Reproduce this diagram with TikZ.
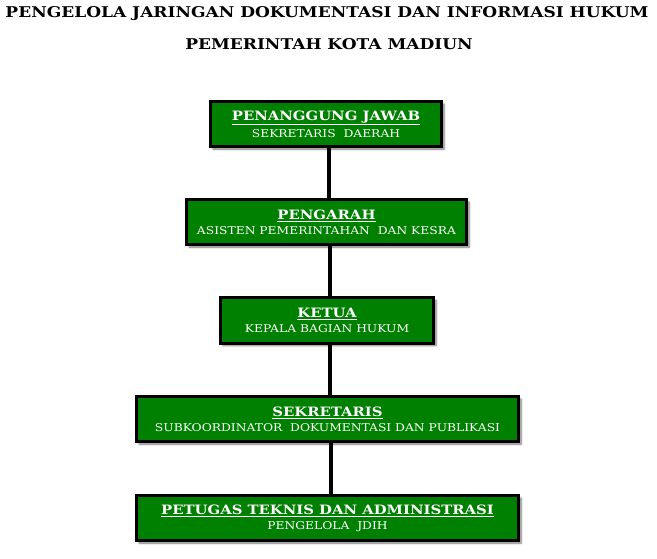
\documentclass[tikz,border=0pt]{standalone}
\usepackage{fontspec}
\setmainfont{DejaVu Serif}[FakeStretch=1.15]
\usetikzlibrary{shadows.blur,backgrounds}
\definecolor{boxgreen}{RGB}{0,128,0}
\tikzset{
  orgbox/.style={draw=black, line width=3pt, fill=boxgreen, text=white,
    minimum height=45pt, inner sep=0pt, align=center,
    blur shadow={shadow xshift=2.5pt, shadow yshift=-2.5pt, shadow blur steps=6, shadow opacity=55}},
  conn/.style={line width=4pt, draw=black},
  ttl/.style={font=\bfseries\fontsize{14.8}{16}\selectfont}
}
\newcommand{\boxtitle}[1]{{\bfseries\fontsize{12.9}{14}\selectfont\underline{#1}}}
\newcommand{\boxsub}[1]{{\fontsize{10.7}{12}\selectfont #1}}
\begin{document}
\begin{tikzpicture}[x=1pt,y=-1pt]
\useasboundingbox (0,0) rectangle (657,559);
\node[ttl] (t1) at (327,14) {PENGELOLA JARINGAN DOKUMENTASI DAN INFORMASI HUKUM};
\node[ttl] (t2) at (329,44) {PEMERINTAH KOTA MADIUN};
\node[orgbox, minimum width=231pt] (b1) at (326,124) {\boxtitle{PENANGGUNG JAWAB}\\[3pt]\boxsub{SEKRETARIS\ \ DAERAH}};
\node[orgbox, minimum width=280pt] (b2) at (326.5,222) {\boxtitle{PENGARAH}\\[3pt]\boxsub{ASISTEN PEMERINTAHAN\ \ DAN KESRA}};
\node[orgbox, minimum width=213pt] (b3) at (327,320.5) {\boxtitle{KETUA}\\[3pt]\boxsub{KEPALA BAGIAN HUKUM}};
\node[orgbox, minimum width=382pt] (b4) at (327.5,419) {\boxtitle{SEKRETARIS}\\[3pt]\boxsub{SUBKOORDINATOR\ \ DOKUMENTASI\ DAN PUBLIKASI}};
\node[orgbox, minimum width=382pt] (b5) at (327.5,518) {\boxtitle{PETUGAS TEKNIS DAN ADMINISTRASI}\\[3pt]\boxsub{PENGELOLA\ \ JDIH}};
\begin{scope}[on background layer]
\draw[conn] ([xshift=3pt]b1.south) -- ([xshift=3pt]b1.south |- b2.north);
\draw[conn] ([xshift=3pt]b2.south) -- ([xshift=3pt]b2.south |- b3.north);
\draw[conn] ([xshift=3pt]b3.south) -- ([xshift=3pt]b3.south |- b4.north);
\draw[conn] ([xshift=3pt]b4.south) -- ([xshift=3pt]b4.south |- b5.north);
\end{scope}
\end{tikzpicture}
\end{document}
